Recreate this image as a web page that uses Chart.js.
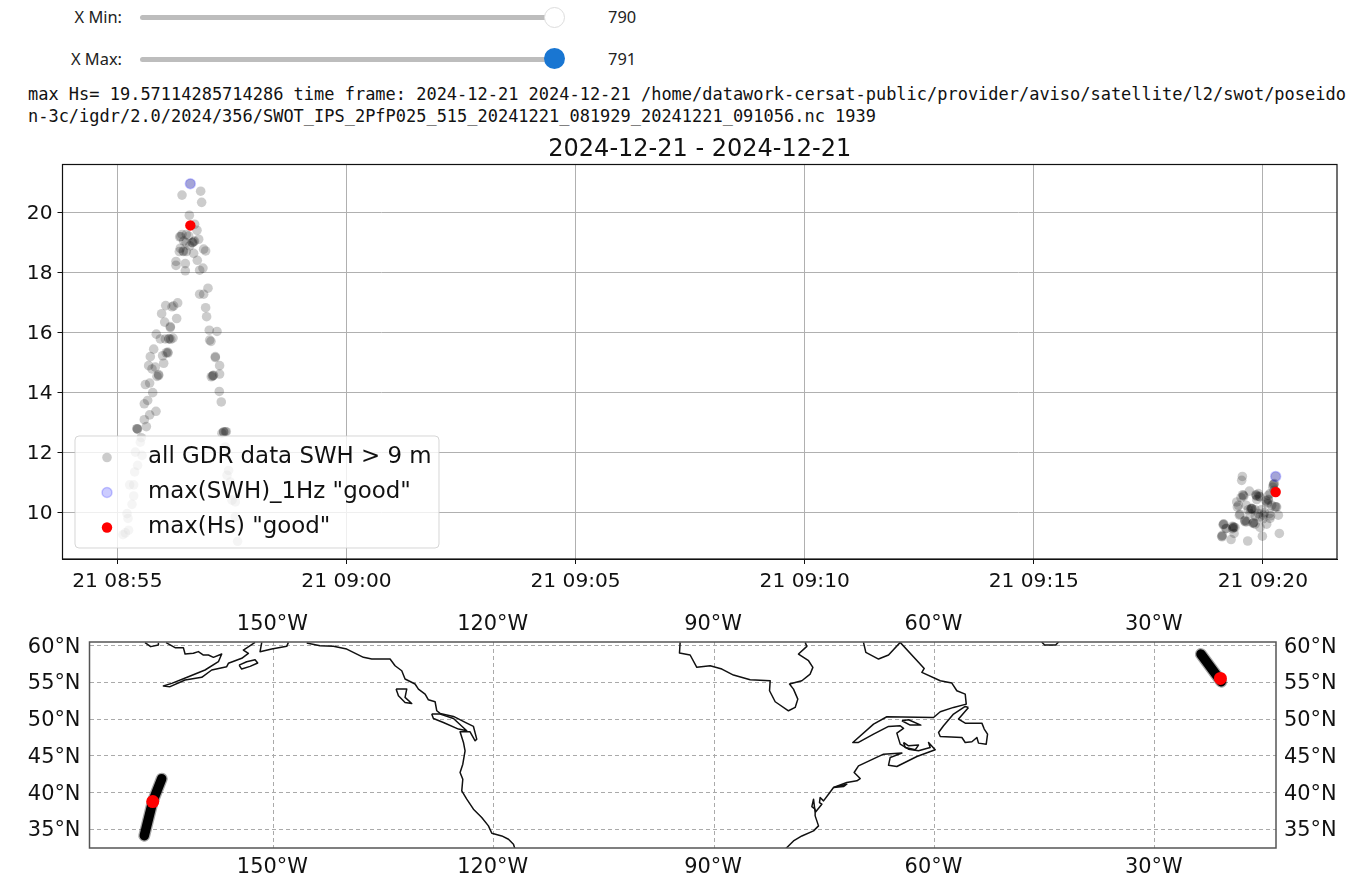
<!DOCTYPE html>
<html>
<head>
<meta charset="utf-8">
<title>max Hs</title>
<script src="https://cdn.jsdelivr.net/npm/chart.js@4/dist/chart.umd.min.js"></script>
<style>
html, body { margin: 0; padding: 0; background: #fff; overflow: hidden; }
body { width: 1350px; height: 886px; position: relative; }
.lbl { position: absolute; right: 1228px; font: 16.4px "Noto Sans", sans-serif; color: #222; line-height: 20px; }
.val { position: absolute; left: 608px; font: 16.4px "Noto Sans", sans-serif; color: #222; line-height: 20px; }
.track { position: absolute; left: 140px; width: 415px; height: 5px; border-radius: 3px; background: #bdbdbd; }
.thumb { position: absolute; left: 544px; width: 21px; height: 21px; border-radius: 50%; box-sizing: border-box; }
.info { position: absolute; left: 28px; width: 1322px; font: 16.98px/22px "DejaVu Sans Mono", monospace; color: #111; word-break: break-all; }
canvas { position: absolute; left: 0; }
</style>
</head>
<body>
<div class="lbl" style="top:7px">X Min:</div>
<div class="track" style="top:15px"></div>
<div class="thumb" style="top:7px;background:#fff;border:1px solid #ddd"></div>
<div class="val" style="top:7px">790</div>
<div class="lbl" style="top:49px">X Max:</div>
<div class="track" style="top:57px"></div>
<div class="thumb" style="top:48px;background:#1976d2"></div>
<div class="val" style="top:49px">791</div>
<div class="info" style="top:83px">max Hs= 19.57114285714286 time frame: 2024-12-21 2024-12-21 /home/datawork-cersat-public/provider/aviso/satellite/l2/swot/poseidon-3c/igdr/2.0/2024/356/SWOT_IPS_2PfP025_515_20241221_081929_20241221_091056.nc 1939</div>
<canvas id="hsChart" width="1350" height="470" style="top:130px"></canvas>
<canvas id="mapChart" width="1350" height="286" style="top:600px"></canvas>
<script>
// seconds after 08:55 and Hs in metres
var allTimes = [
    95.6,109.1,84.7,110.4,94.3,101.2,104.3,84.7,81.6,90.3,93.4,86.8,101.2,106.5,98.6,113.0,115.6,82.5,81.2,86.8,90.3,
    94.7,99.9,104.7,76.8,76.8,89.0,89.0,107.8,112.1,118.7,107.8,113.0,115.6,116.9,79.0,73.7,71.6,63.3,58.0,77.7,
    62.0,69.4,51.0,56.3,62.8,67.2,72.9,120.4,130.5,120.9,122.6,47.6,43.2,66.3,59.3,128.3,128.3,60.7,41.0,45.4,
    49.7,54.1,51.9,42.3,36.7,46.3,39.7,35.3,50.6,42.3,35.3,38.0,25.8,31.4,30.1,23.6,32.3,26.6,22.7,16.1,
    21.4,21.4,19.2,12.7,14.0,14.8,7.4,10.5,133.9,133.9,125.2,123.0,133.5,136.1,142.7,139.2,137.0,141.4,145.7,143.6,
    147.9,150.1,154.5,154.5,157.5,
    25.8,26.5,139.2,141.5,124.5,126.0,54.1,69.4,68.0,70.0,64.0,66.0,86.0,90.0,98.0,100.0,83.0,
    1516.7,1473.1,1472.2,1513.7,1515.0,1482.3,1494.0,1491.0,1474.4,1471.3,1496.2,1507.1,1509.3,1465.7,1466.5,1505.8,1507.1,1491.9,1515.8,1518.0,1520.2,
    1485.3,1480.9,1489.7,1469.2,1476.6,1478.8,1487.5,1489.7,1496.2,1500.6,1509.3,1504.9,1496.2,1448.2,1451.7,1461.3,1460.4,1463.5,1446.0,1446.9,
    1458.3,1462.2,1480.1,1499.3,1521.5,1483.1,1494.0,1467.9,1508.4,1511.5,
    1448.0,1449.0,1452.0,1461.0,1462.0,1460.0,1446.5,1485.0,1486.0,1484.0,1491.0,1492.0,1473.5,1475.0,1504.0,1506.0,1507.0,1487.0,1488.0,1476.0,
    1477.0,1513.0,1514.0,1515.0,1517.0,1510.0,1470.0,1500.0,1495.0,1502.0,1490.0,1498.0,1478.0
];
var allHs = [
    20.96,20.71,20.58,20.34,19.91,19.61,19.41,19.27,19.19,19.27,19.22,19.05,19.05,19.11,19.0,18.78,18.72,18.81,18.70,18.70,18.70,
    18.89,18.64,18.41,18.37,18.24,18.30,18.06,18.08,18.15,17.48,17.28,17.28,16.83,16.53,16.99,16.89,16.86,16.9,16.63,16.47,
    16.35,16.17,15.95,15.79,15.79,15.79,15.82,16.08,16.04,15.75,15.71,15.45,15.2,15.32,15.23,15.2,15.17,14.98,14.9,14.79,
    14.85,14.57,14.54,14.32,14.27,14.0,13.74,13.63,13.38,13.26,13.1,12.87,12.8,12.5,12.35,12.02,11.91,11.58,11.36,10.93,
    10.93,10.56,10.28,9.97,9.81,9.42,9.27,9.33,14.9,14.62,14.57,14.53,14.04,13.69,12.7,12.69,12.65,12.19,11.41,11.25,
    11.02,10.42,10.36,9.86,9.05,
    12.8,12.78,12.69,12.7,14.55,14.58,14.6,16.2,15.8,15.78,15.33,15.35,18.72,19.0,19.0,19.03,19.2,
    11.21,11.21,11.08,10.93,10.97,10.72,10.64,10.58,10.58,10.5,10.53,10.58,10.64,10.36,10.19,10.3,10.42,10.44,10.2,10.19,9.92,
    10.14,10.1,10.1,9.92,9.75,9.7,9.66,9.62,9.86,9.92,9.81,9.62,9.51,9.62,9.47,9.53,9.47,9.51,9.22,9.25,
    9.11,9.31,9.06,9.22,9.31,9.97,9.97,10.25,9.97,10.25,
    9.6,9.62,9.48,9.5,9.52,9.55,9.2,10.15,10.13,10.12,10.6,10.55,10.6,10.55,10.4,10.35,10.45,9.65,9.68,9.73,
    9.7,10.85,10.95,10.75,10.2,9.9,9.95,9.8,10.55,10.0,9.9,10.1,10.25
];
var swhTimes = [95.6, 1516.7];
var swhValues = [20.96, 11.21];
var hsMaxTimes = [95.6, 1516.7];
var hsMaxValues = [19.57, 10.69];

var hsTickValues = [0, 300, 600, 900, 1200, 1500];
var hsTickLabels = ['21 08:55', '21 09:00', '21 09:05', '21 09:10', '21 09:15', '21 09:20'];
var hsYTicks = [10, 12, 14, 16, 18, 20];
var seriesNames = ['all GDR data SWH > 9 m', 'max(SWH)_1Hz "good"', 'max(Hs) "good"'];
var chartTitle = '2024-12-21 - 2024-12-21';

var lonTicks = [-150, -120, -90, -60, -30];
var lonLabels = ['150°W', '120°W', '90°W', '60°W', '30°W'];
var latTicks = [35, 40, 45, 50, 55, 60];
var latLabels = ['35°N', '40°N', '45°N', '50°N', '55°N', '60°N'];

// satellite tracks and max points, lon/lat
var trackWest = [[-165.2,41.9],[-166.42,38.79],[-167.57,34.15]];
var trackEast = [[-23.72,58.85],[-20.95,55.1]];
var maxLons = [-166.42, -21.07];
var maxLats = [38.79, 55.55];

// coastlines, lon/lat
var coastBristolIsland = [[-167.47,60.41],[-166.7,59.87],[-165.65,60.1],[-165.65,60.41]];
var coastAlaskaPeninsula = [[-164.61,60.41],[-163.38,59.73],[-162.25,59.73],[-162.02,58.87],[-160.89,58.96],[-160.21,59.19],[-159.52,58.73],[-158.84,58.73],[-158.16,58.41],[-157.03,58.87],[-157.48,57.82],[-159.3,56.69],[-161.57,55.78],[-163.84,54.87],[-164.97,54.51],[-164.06,54.42],[-162.02,55.33],[-159.75,55.69],[-158.39,56.69],[-156.35,57.14],[-156.12,57.6],[-154.3,58.28],[-153.4,58.96],[-154.08,59.41],[-152.49,60.45]];
var coastKenai = [[-151.58,60.45],[-151.81,59.18],[-150.22,59.54],[-148.18,59.91],[-147.95,60.45]];
var coastKodiak = [[-154.67,57.36],[-153.63,57.82],[-152.49,58.09],[-152.13,57.64],[-153.17,57.18],[-154.31,56.82],[-154.67,57.36]];
var coastPacific = [[-145.46,60.36],[-143.64,60.0],[-141.82,59.91],[-140.01,59.54],[-137.74,58.41],[-136.6,58.18],[-134.11,58.18],[-133.43,57.27],[-132.52,56.59],[-132.07,55.46],[-130.71,54.78],[-130.25,54.09],[-129.34,53.41],[-128.89,52.64],[-127.98,52.37],[-127.75,51.14],[-127.3,50.78],[-125.48,50.37],[-123.67,49.46],[-122.76,49.01],[-122.31,47.28],[-122.53,47.06],[-123.22,48.28],[-124.58,48.28],[-124.12,46.83],[-123.9,45.69],[-124.21,43.88],[-124.58,42.74],[-124.21,41.83],[-124.35,40.24],[-123.67,39.11],[-122.76,37.75],[-121.63,36.61],[-120.72,35.48],[-120.26,34.48],[-118.9,34.11],[-117.99,33.66],[-117.31,32.98],[-117.09,32.3]];
var coastVancouver = [[-128.44,50.69],[-127.3,50.69],[-125.48,50.1],[-123.67,48.42],[-124.8,48.65],[-126.85,49.55],[-128.21,50.1],[-128.44,50.69]];
var coastHaida = [[-133.29,54.09],[-131.84,54.09],[-132.07,52.96],[-131.16,52.14],[-132.07,52.28],[-132.97,53.19],[-133.29,54.09]];
var coastHudson = [[-94.62,60.45],[-94.71,59.0],[-93.26,58.73],[-92.35,57.05],[-90.53,57.27],[-88.94,56.82],[-87.36,56.0],[-85.09,55.37],[-82.36,55.23],[-82.45,53.87],[-81.68,52.37],[-79.87,51.14],[-78.96,51.6],[-78.6,52.73],[-79.19,54.09],[-79.73,54.78],[-78.05,55.23],[-76.92,56.14],[-76.55,57.05],[-77.14,57.95],[-78.51,58.86],[-77.37,59.91],[-77.6,60.45]];
var coastUngava = [[-69.66,60.45],[-69.34,59.09],[-67.61,58.18],[-66.25,58.73],[-64.66,60.45]];
var coastAtlantic = [[-64.66,60.45],[-61.39,56.91],[-61.71,56.36],[-59.21,55.23],[-57.63,54.91],[-56.95,53.87],[-55.81,53.41],[-55.67,52.05],[-57.4,51.6],[-59.21,51.01],[-60.12,50.23],[-66.48,50.33],[-68.29,49.33],[-71.11,46.83],[-70.34,46.83],[-68.29,47.96],[-66.25,49.01],[-64.66,49.1],[-64.21,48.74],[-65.12,48.1],[-64.66,46.6],[-63.53,45.92],[-62.17,45.69],[-60.58,46.15],[-60.8,46.83],[-59.9,45.83],[-62.39,44.92],[-65.12,43.56],[-66.25,43.74],[-66.02,44.79],[-64.43,45.38],[-66.93,45.24],[-70.34,43.65],[-70.93,42.74],[-70.11,41.92],[-70.56,41.61],[-71.93,41.38],[-73.74,40.7],[-74.42,39.79],[-75.1,38.88],[-75.56,39.34],[-75.65,38.65],[-75.33,38.43],[-76.24,37.29],[-76.46,39.11],[-76.69,38.11],[-76.24,37.75],[-76.24,36.84],[-75.78,35.48],[-76.46,34.8],[-78.05,34.11],[-79.19,33.43],[-80.32,32.3]];
var coastAnticosti = [[-64.43,49.78],[-63.53,49.92],[-61.85,49.19],[-63.3,49.19],[-64.43,49.78]];
var coastPei = [[-64.21,46.83],[-63.53,46.37],[-62.17,46.47],[-62.62,45.83],[-63.98,46.15],[-64.21,46.83]];
var coastNewfoundland = [[-55.36,51.6],[-56.72,50.01],[-55.81,49.46],[-54.68,49.46],[-53.54,49.46],[-53.22,48.65],[-52.77,47.96],[-52.95,46.6],[-54.0,46.74],[-54.22,47.51],[-54.9,46.92],[-55.81,46.83],[-56.26,47.51],[-59.21,47.65],[-59.44,48.19],[-58.76,49.1],[-57.4,50.69],[-55.81,51.73],[-55.36,51.6]];
var coastLongIsland = [[-73.74,40.7],[-71.93,41.15],[-72.38,40.83],[-73.74,40.7]];
var coastGreenland = [[-45.4,60.5],[-45.0,60.1],[-43.5,60.1],[-43.1,60.5]];

var coastLines = [coastBristolIsland, coastAlaskaPeninsula, coastKenai, coastKodiak, coastPacific, coastVancouver, coastHaida,
    coastHudson, coastUngava, coastAtlantic, coastAnticosti, coastPei, coastNewfoundland, coastLongIsland, coastGreenland];

var tickFont = { family: 'DejaVu Sans', size: 20.2 };
var mapFont = { family: 'DejaVu Sans', size: 20.9 };
var GREY = 'rgba(0,0,0,0.2)';
var BLUE = 'rgba(0,0,255,0.2)';

function toPoints(xs, ys) {
    return xs.map(function (x, i) { return { x: x, y: ys[i] }; });
}
function pairsToPoints(pairs) {
    return pairs.map(function (p) { return { x: p[0], y: p[1] }; });
}
function setTicks(values) {
    return function (scale) {
        scale.ticks = values.map(function (v) { return { value: v }; });
    };
}
function fixedWidth(w) {
    return function (scale) { scale.width = w; };
}
function fixedHeight(h) {
    return function (scale) { scale.height = h; };
}

// axes box on all four sides
function framePlugin(color, width) {
    return {
        id: 'frame',
        afterDraw: function (chart) {
            var a = chart.chartArea, c = chart.ctx;
            c.save();
            c.strokeStyle = color;
            c.lineWidth = width;
            c.strokeRect(a.left, a.top, a.right - a.left, a.bottom - a.top);
            c.restore();
        }
    };
}

// matplotlib style legend, sits on top of the points
var legendBox = {
    id: 'legendBox',
    afterDatasetsDraw: function (chart) {
        var c = chart.ctx;
        var top = 306, rowH = 35;
        c.save();
        c.beginPath();
        c.roundRect(75, top, 364, 112, 4);
        c.fillStyle = 'rgba(255,255,255,0.8)';
        c.fill();
        c.strokeStyle = 'rgba(204,204,204,0.8)';
        c.lineWidth = 1;
        c.stroke();
        c.font = '22.9px "DejaVu Sans"';
        c.textBaseline = 'middle';
        chart.data.datasets.forEach(function (ds, i) {
            var y = top + 21.5 + i * rowH;
            c.beginPath();
            c.arc(107, y, ds.pointRadius, 0, Math.PI * 2);
            c.fillStyle = ds.backgroundColor;
            c.fill();
            if (ds.borderWidth) {
                c.strokeStyle = ds.borderColor;
                c.lineWidth = ds.borderWidth;
                c.stroke();
            }
            c.fillStyle = '#111';
            c.fillText(ds.label, 148, y);
        });
        c.restore();
    }
};

function makeHsChart() {
    new Chart(document.getElementById('hsChart'), {
        type: 'scatter',
        data: {
            datasets: [
                { label: seriesNames[0], data: toPoints(allTimes, allHs), order: 3, pointRadius: 4.8, backgroundColor: GREY, borderWidth: 0 },
                { label: seriesNames[1], data: toPoints(swhTimes, swhValues), order: 2, pointRadius: 5, backgroundColor: BLUE, borderColor: BLUE, borderWidth: 1.5 },
                { label: seriesNames[2], data: toPoints(hsMaxTimes, hsMaxValues), order: 1, pointRadius: 5.2, backgroundColor: '#ff0000', borderWidth: 0 }
            ]
        },
        options: {
            responsive: false,
            animation: false,
            layout: { padding: { right: 13, left: 0, top: 0, bottom: 0 } },
            plugins: {
                legend: { display: false },
                tooltip: { enabled: false },
                title: { display: true, fullSize: false, text: chartTitle, color: '#111', font: { family: 'DejaVu Sans', size: 24, weight: 'normal' }, padding: { top: 5, bottom: 0.7 } }
            },
            scales: {
                x: {
                    type: 'linear', min: -71.8, max: 1597,
                    afterBuildTicks: setTicks(hsTickValues),
                    afterFit: fixedHeight(41),
                    grid: { color: '#b0b0b0', tickColor: '#111', tickLength: 5 },
                    border: { color: '#111' },
                    ticks: {
                        color: '#111', font: tickFont, maxRotation: 0, autoSkip: false, padding: 6,
                        callback: function (v) { return hsTickLabels[hsTickValues.indexOf(v)]; }
                    }
                },
                y: {
                    min: 8.46, max: 21.6,
                    afterBuildTicks: setTicks(hsYTicks),
                    afterFit: fixedWidth(62.5),
                    grid: { color: '#b0b0b0', tickColor: '#111', tickLength: 5 },
                    border: { color: '#111' },
                    ticks: { color: '#111', font: tickFont, padding: 5, labelOffset: 1 }
                }
            }
        },
        plugins: [framePlugin('#111', 1.2), legendBox]
    });
}

function makeMapChart() {
    var datasets = [];
    datasets.push({ data: toPoints(maxLons, maxLats), showLine: false, order: 1, pointRadius: 6.5, backgroundColor: '#ff0000', borderWidth: 0 });
    [trackWest, trackEast].forEach(function (t) {
        datasets.push({ data: pairsToPoints(t), showLine: true, order: 2, pointRadius: 0, borderColor: '#000', borderWidth: 9.5, borderCapStyle: 'round' });
        datasets.push({ data: pairsToPoints(t), showLine: true, order: 3, pointRadius: 0, borderColor: 'rgba(0,0,0,0.35)', borderWidth: 12, borderCapStyle: 'round' });
    });
    coastLines.forEach(function (seg) {
        datasets.push({ data: pairsToPoints(seg), showLine: true, order: 4, pointRadius: 0, borderColor: '#111', borderWidth: 1.5, borderJoinStyle: 'round' });
    });
    var lonLabel = function (v) { return lonLabels[lonTicks.indexOf(v)]; };
    var latLabel = function (v) { return latLabels[latTicks.indexOf(v)]; };
    var dashGrid = { color: '#aaaaaa', lineWidth: 1, drawTicks: false, tickLength: 0 };
    var noGrid = { display: false, drawTicks: false, tickLength: 0 };
    new Chart(document.getElementById('mapChart'), {
        type: 'scatter',
        data: { datasets: datasets },
        options: {
            responsive: false,
            animation: false,
            layout: { padding: 0 },
            plugins: { legend: { display: false }, tooltip: { enabled: false } },
            scales: {
                x: {
                    type: 'linear', position: 'bottom', min: -175.03, max: -13.5,
                    afterBuildTicks: setTicks(lonTicks), afterFit: fixedHeight(38),
                    grid: dashGrid, border: { display: false, dash: [4, 3] },
                    ticks: { color: '#111', font: mapFont, padding: 7, maxRotation: 0, autoSkip: false, labelOffset: -1, callback: lonLabel }
                },
                xTop: {
                    type: 'linear', axis: 'x', position: 'top', min: -175.03, max: -13.5,
                    afterBuildTicks: setTicks(lonTicks), afterFit: fixedHeight(42),
                    grid: noGrid, border: { display: false },
                    ticks: { color: '#111', font: mapFont, padding: 5, maxRotation: 0, autoSkip: false, labelOffset: -1, callback: lonLabel }
                },
                y: {
                    position: 'left', min: 32.47, max: 60.5,
                    afterBuildTicks: setTicks(latTicks), afterFit: fixedWidth(89.5),
                    grid: dashGrid, border: { display: false, dash: [4, 3] },
                    ticks: { color: '#111', font: mapFont, padding: 9, labelOffset: 1.5, callback: latLabel }
                },
                yRight: {
                    type: 'linear', axis: 'y', position: 'right', min: 32.47, max: 60.5,
                    afterBuildTicks: setTicks(latTicks), afterFit: fixedWidth(74),
                    grid: noGrid, border: { display: false },
                    ticks: { color: '#111', font: mapFont, padding: 8, labelOffset: 1.5, callback: latLabel }
                }
            }
        },
        plugins: [framePlugin('#555', 1.5)]
    });
}

document.addEventListener('DOMContentLoaded', function () {
    makeHsChart();
    makeMapChart();
});
</script>
</body>
</html>
